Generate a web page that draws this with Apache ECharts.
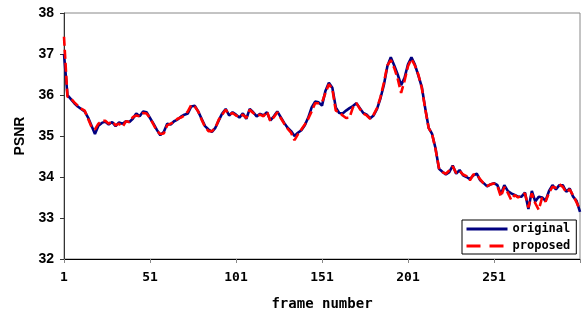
<!DOCTYPE html>
<html>
<head>
<meta charset="utf-8">
<script src="https://cdn.jsdelivr.net/npm/echarts@6/dist/echarts.min.js"></script>
<style>
  html, body { margin: 0; padding: 0; background: #fff; }
  #chart { width: 585px; height: 316px; }
</style>
</head>
<body>
<div id="chart"></div>
<script>
// frame numbers (every second frame)
var frames = [
  1, 3, 5, 7, 9, 11, 13, 15, 17, 19,
  21, 23, 25, 27, 29, 31, 33, 35, 37, 39,
  41, 43, 45, 47, 49, 51, 53, 55, 57, 59,
  61, 63, 65, 67, 69, 71, 73, 75, 77, 79,
  81, 83, 85, 87, 89, 91, 93, 95, 97, 99,
  101, 103, 105, 107, 109, 111, 113, 115, 117, 119,
  121, 123, 125, 127, 129, 131, 133, 135, 137, 139,
  141, 143, 145, 147, 149, 151, 153, 155, 157, 159,
  161, 163, 165, 167, 169, 171, 173, 175, 177, 179,
  181, 183, 185, 187, 189, 191, 193, 195, 197, 199,
  201, 203, 205, 207, 209, 211, 213, 215, 217, 219,
  221, 223, 225, 227, 229, 231, 233, 235, 237, 239,
  241, 243, 245, 247, 249, 251, 253, 255, 257, 259,
  261, 263, 265, 267, 269, 271, 273, 275, 277, 279,
  281, 283, 285, 287, 289, 291, 293, 295, 297, 299,
  301
];

var original = [
  37.0, 36.0, 35.9, 35.8, 35.72, 35.66, 35.6, 35.45, 35.25, 35.05,
  35.25, 35.32, 35.35, 35.28, 35.34, 35.24, 35.33, 35.3, 35.36, 35.34,
  35.42, 35.55, 35.48, 35.6, 35.58, 35.44, 35.3, 35.15, 35.02, 35.1,
  35.3, 35.28, 35.36, 35.4, 35.47, 35.52, 35.55, 35.72, 35.74, 35.6,
  35.42, 35.24, 35.16, 35.1, 35.2, 35.38, 35.55, 35.66, 35.5, 35.58,
  35.52, 35.45, 35.55, 35.42, 35.66, 35.58, 35.48, 35.54, 35.5, 35.58,
  35.38, 35.48, 35.6, 35.46, 35.32, 35.2, 35.12, 35.0, 35.08, 35.14,
  35.26, 35.45, 35.7, 35.84, 35.82, 35.74, 36.1, 36.3, 36.18, 35.7,
  35.56, 35.55, 35.62, 35.68, 35.73, 35.8, 35.68, 35.56, 35.52, 35.43,
  35.5, 35.66, 35.92, 36.25, 36.7, 36.92, 36.72, 36.5, 36.24, 36.42,
  36.75, 36.92, 36.74, 36.48, 36.2, 35.68, 35.2, 35.05, 34.7, 34.2,
  34.13, 34.06, 34.12, 34.28, 34.08, 34.17, 34.04, 34.0, 33.95, 34.04,
  34.08, 33.92, 33.85, 33.77, 33.82, 33.85, 33.8, 33.58, 33.8, 33.66,
  33.6, 33.56, 33.52, 33.52, 33.62, 33.22, 33.66, 33.4, 33.52, 33.5,
  33.42, 33.66, 33.8, 33.7, 33.8, 33.8, 33.64, 33.72, 33.52, 33.42,
  33.15
];

var proposed = [
  37.42, 35.96, 35.92, 35.82, 35.74, 35.67, 35.62, 35.42, 35.22, 35.16,
  35.3, 35.37, 35.37, 35.3, 35.36, 35.26, 35.3, 35.22, 35.36, 35.34,
  35.46, 35.5, 35.48, 35.56, 35.55, 35.44, 35.28, 35.12, 35.05, 35.06,
  35.26, 35.3, 35.34, 35.42, 35.45, 35.5, 35.6, 35.76, 35.72, 35.6,
  35.4, 35.22, 35.12, 35.12, 35.2, 35.4, 35.52, 35.64, 35.52, 35.56,
  35.5, 35.46, 35.52, 35.44, 35.64, 35.56, 35.5, 35.52, 35.48, 35.6,
  35.36, 35.46, 35.58, 35.44, 35.3, 35.18, 35.08, 34.9, 35.04, 35.16,
  35.28, 35.42, 35.6, 35.8, 35.8, 35.82, 36.05, 36.26, 36.15, 35.62,
  35.58, 35.5, 35.44, 35.45, 35.7, 35.8, 35.66, 35.55, 35.5, 35.42,
  35.52, 35.68, 35.95, 36.3, 36.72, 36.85, 36.66, 36.4, 36.05, 36.35,
  36.7, 36.88, 36.72, 36.5, 36.18, 35.66, 35.2, 35.05, 34.68, 34.22,
  34.12, 34.08, 34.16, 34.26, 34.1, 34.15, 34.06, 34.02, 33.92, 34.06,
  34.06, 33.94, 33.84, 33.78, 33.82, 33.84, 33.78, 33.52, 33.76, 33.62,
  33.44, 33.56, 33.5, 33.55, 33.6, 33.26, 33.6, 33.36, 33.2, 33.5,
  33.4, 33.62, 33.76, 33.74, 33.82, 33.76, 33.62, 33.7, 33.55, 33.38,
  33.2
];

var xTicks = [1, 51, 101, 151, 201, 251];

var monoFont = '"DejaVu Sans Mono", monospace';

function pairs(vals) {
  // axis runs 0..300, label shows frame = value + 1
  return frames.map(function (f, i) { return [f - 1, vals[i]]; });
}

var chart = echarts.init(document.getElementById('chart'));
chart.setOption({
  animation: false,
  backgroundColor: '#fff',
  grid: {
    left: 64, right: 5, top: 13, bottom: 53,
    show: true, borderColor: '#888', borderWidth: 1
  },
  legend: {
    orient: 'vertical',
    left: 462, top: 220,
    backgroundColor: '#fff',
    borderColor: '#000', borderWidth: 1,
    padding: [3, 6, 2, 3],
    itemGap: 5, itemWidth: 41, itemHeight: 13,
    itemStyle: { opacity: 0 },
    textStyle: { fontFamily: monoFont, fontWeight: 'bold', fontSize: 12, color: '#000' },
    data: [
      { name: 'original', lineStyle: { width: 3 } },
      { name: 'proposed', lineStyle: { width: 3, type: [14, 9] } }
    ]
  },
  xAxis: {
    type: 'value',
    min: 0, max: 300, interval: 50,
    name: 'frame number',
    nameLocation: 'middle',
    nameGap: 38,
    nameTextStyle: { fontFamily: monoFont, fontWeight: 'bold', fontSize: 14, color: '#000' },
    axisLine: { lineStyle: { color: '#000', width: 1 } },
    axisTick: { length: 4, lineStyle: { color: '#888' } },
    splitLine: { show: false },
    axisLabel: {
      margin: 12,
      fontFamily: monoFont, fontWeight: 'bold', fontSize: 13, color: '#000',
      formatter: function (v) {
        return xTicks.indexOf(v + 1) >= 0 ? String(v + 1) : '';
      }
    }
  },
  yAxis: {
    type: 'value',
    min: 32, max: 38, interval: 1,
    name: 'PSNR',
    nameLocation: 'middle',
    nameGap: 35,
    nameTextStyle: { fontFamily: '"Liberation Sans", Arial, sans-serif', fontWeight: 'bold', fontSize: 14, color: '#000' },
    axisLine: { show: true, lineStyle: { color: '#333', width: 1 } },
    axisTick: { show: true, length: 4, lineStyle: { color: '#333' } },
    splitLine: { show: false },
    axisLabel: {
      margin: 10,
      fontFamily: '"Liberation Sans", Arial, sans-serif', fontWeight: 'bold', fontSize: 14, color: '#000'
    }
  },
  series: [
    {
      name: 'original',
      type: 'line',
      symbol: 'none',
      data: pairs(original),
      lineStyle: { color: '#000080', width: 2.6 },
      itemStyle: { color: '#000080' }
    },
    {
      name: 'proposed',
      type: 'line',
      symbol: 'none',
      data: pairs(proposed),
      lineStyle: { color: '#ff0000', width: 2.6, type: [9, 4] },
      itemStyle: { color: '#ff0000' }
    }
  ]
});
</script>
</body>
</html>
